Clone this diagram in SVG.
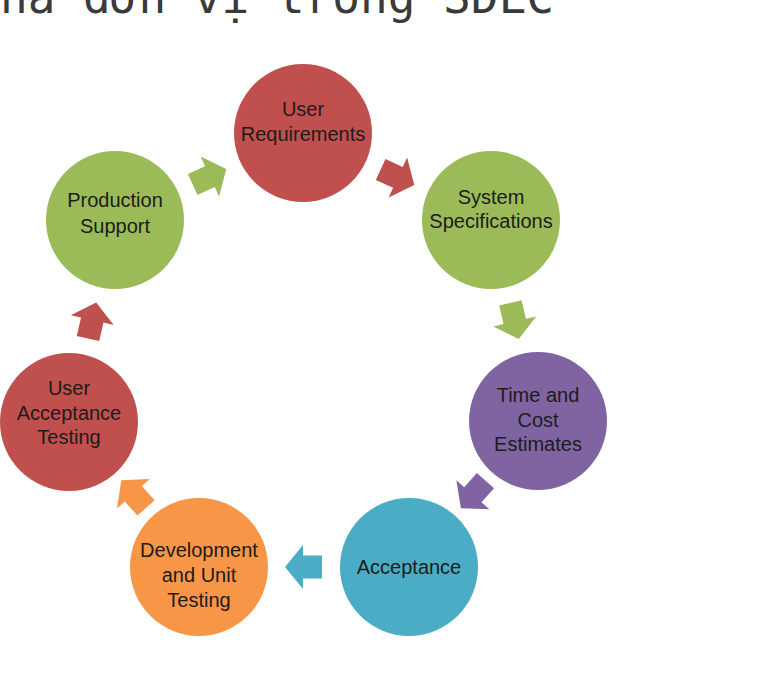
<svg xmlns="http://www.w3.org/2000/svg" xmlns:xlink="http://www.w3.org/1999/xlink" width="769" height="700" viewBox="0 0 769 700">
<style>
.lbl{font-family:"Liberation Sans",Arial,sans-serif;font-size:20px;fill:#1c1c1c;text-anchor:middle}
.top{font-family:"DejaVu Sans Mono","Liberation Mono",monospace;font-size:46px;fill:#3a3a3a}
.red{fill:#C0504D}.green{fill:#9BBB59}.purple{fill:#8064A2}.teal{fill:#4BACC6}.orange{fill:#F79646}
</style>
<defs>
<path id="arr" d="M-18,-11.5 H1 V-22 L19,0 L1,22 V11.5 H-18 Z"/>
</defs>
<rect width="769" height="700" fill="#ffffff"/>
<text class="top" x="0" y="13">nà đơn vị trong SDLC</text>
<g id="connectors">
<use xlink:href="#arr" class="green" transform="translate(209,177) rotate(-24.8)"/>
<use xlink:href="#arr" class="red" transform="translate(397,177) rotate(24.8)"/>
<use xlink:href="#arr" class="green" transform="translate(514.5,320.5) rotate(76.8)"/>
<use xlink:href="#arr" class="purple" transform="translate(473.5,494) rotate(131.5)"/>
<use xlink:href="#arr" class="teal" transform="translate(304,567) rotate(180)"/>
<use xlink:href="#arr" class="orange" transform="translate(134,494.5) rotate(228.1)"/>
<use xlink:href="#arr" class="red" transform="translate(92,321) rotate(-77.2)"/>
</g>
<g id="user-requirements">
<circle class="red" cx="303" cy="133" r="69"/>
<text class="lbl" x="303" y="116">User</text>
<text class="lbl" x="303" y="141">Requirements</text>
</g>
<g id="system-specifications">
<circle class="green" cx="491" cy="220" r="69"/>
<text class="lbl" x="491" y="204">System</text>
<text class="lbl" x="491" y="228">Specifications</text>
</g>
<g id="time-cost-estimates">
<circle class="purple" cx="538" cy="421" r="69"/>
<text class="lbl" x="538" y="402">Time and</text>
<text class="lbl" x="538" y="427">Cost</text>
<text class="lbl" x="538" y="451">Estimates</text>
</g>
<g id="acceptance">
<circle class="teal" cx="409" cy="567" r="69"/>
<text class="lbl" x="409" y="574">Acceptance</text>
</g>
<g id="development-unit-testing">
<circle class="orange" cx="199" cy="567" r="69"/>
<text class="lbl" x="199" y="557">Development</text>
<text class="lbl" x="199" y="582">and Unit</text>
<text class="lbl" x="199" y="607">Testing</text>
</g>
<g id="user-acceptance-testing">
<circle class="red" cx="69" cy="422" r="69"/>
<text class="lbl" x="69" y="395">User</text>
<text class="lbl" x="69" y="420">Acceptance</text>
<text class="lbl" x="69" y="444">Testing</text>
</g>
<g id="production-support">
<circle class="green" cx="115" cy="220" r="69"/>
<text class="lbl" x="115" y="207">Production</text>
<text class="lbl" x="115" y="233">Support</text>
</g>
</svg>
